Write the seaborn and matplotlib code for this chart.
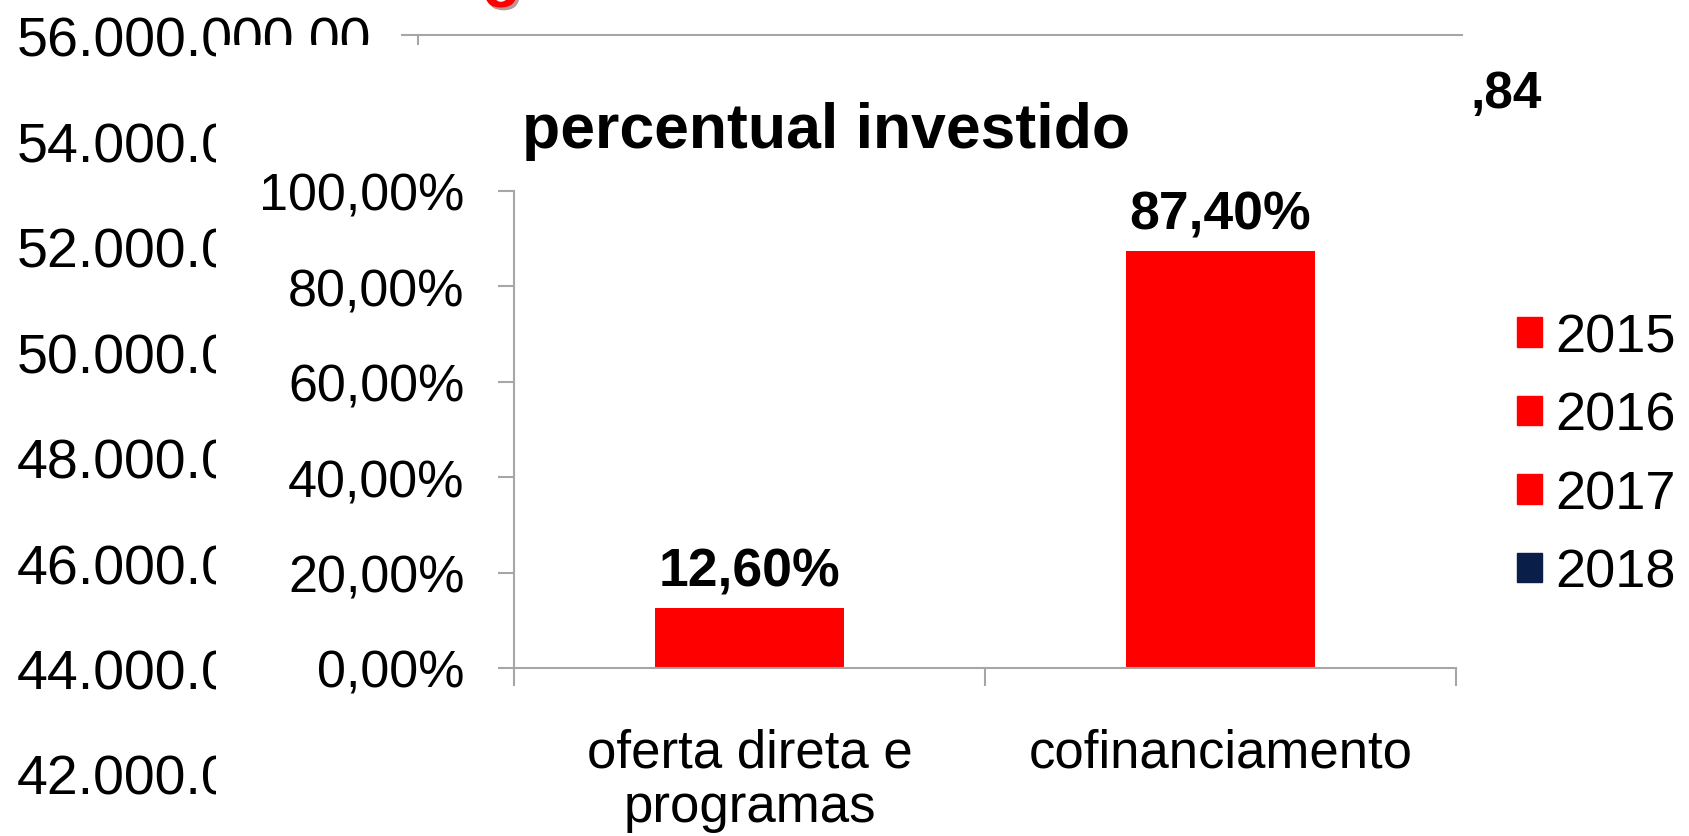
import matplotlib
matplotlib.use('Agg')
import matplotlib.pyplot as plt
import matplotlib.patheffects as pe
from matplotlib.patches import Rectangle, Patch
import seaborn as sns

# Data.
categories = ['oferta direta e\nprogramas', 'cofinanciamento']
percent = [0.126, 0.874]
percent_labels = ['12,60%', '87,40%']
pct_ticks = [0.0, 0.2, 0.4, 0.6, 0.8, 1.0]

# Background chart (mostly hidden behind the overlay).
bg_ticks = [40000000, 42000000, 44000000, 46000000, 48000000,
            50000000, 52000000, 54000000, 56000000]
years = ['2015', '2016', '2017', '2018']
year_colors = ['#ff0000', '#ff0000', '#ff0000', '#0a1e4a']
bg_value_fragment = ',84'

sns.set_theme(style='white')
plt.rcParams['font.family'] = ['Liberation Sans', 'DejaVu Sans']
plt.rcParams['text.color'] = 'black'
plt.rcParams['xtick.color'] = 'black'
plt.rcParams['ytick.color'] = 'black'

W, H = 1689, 837
def fx(px):
    return px / W
def fy(py):
    return 1 - py / H

GRAY = '#a6a6a6'
fig = plt.figure(figsize=(W / 100, H / 100), dpi=100)

# Background axes.
ax_bg = fig.add_axes([fx(418), fy(880), fx(1462) - fx(418), fy(36) - fy(880)])
ax_bg.set_ylim(40000000, 56000000)
ax_bg.set_yticks(bg_ticks)
ax_bg.set_yticklabels([f'{v:,.2f}'.replace(',', 'X').replace('.', ',').replace('X', '.')
                       for v in bg_ticks])
ax_bg.set_xticks([])
for s in ['right', 'bottom']:
    ax_bg.spines[s].set_visible(False)
for s in ['left', 'top']:
    ax_bg.spines[s].set_color(GRAY)
    ax_bg.spines[s].set_linewidth(1.5)
ax_bg.tick_params(axis='y', direction='out', length=12, width=1.5, color=GRAY,
                  labelcolor='black', pad=22, labelsize=40, left=True)
ax_bg.legend(handles=[Patch(facecolor=c, edgecolor=c) for c in year_colors],
             labels=years, loc='center left',
             bbox_to_anchor=(fx(1517), fy(456)), bbox_transform=fig.transFigure,
             frameon=False, fontsize=39, handlelength=0.46, handleheight=0.46,
             handletextpad=0.25, labelspacing=0.525, borderaxespad=0, borderpad=0)
fig.text(fx(1470), fy(108), bg_value_fragment, fontsize=37, fontweight='bold',
         va='baseline', ha='left')

# Red title fragment peeking in at the top edge.
fig.text(fx(482), fy(-5), 'g', fontsize=46, fontweight='bold', color='#ff0000',
         va='baseline', ha='left',
         path_effects=[pe.SimplePatchShadow(offset=(2, -2), alpha=0.4), pe.Normal()])

# White box of the pasted overlay chart.
fig.add_artist(Rectangle((fx(216), 0), fx(1468) - fx(216), fy(46),
                         transform=fig.transFigure, facecolor='white',
                         edgecolor='none', zorder=1))

# Overlay chart.
ax = fig.add_axes([fx(514), fy(669), fx(1456) - fx(514), fy(192) - fy(669)])
ax.set_zorder(2)
sns.barplot(x=categories, y=percent, color='#ff0000', saturation=1, width=0.4,
            linewidth=0, ax=ax)
ax.set_xlim(-0.5, 1.5)
ax.set_ylim(0, 1)
ax.set_yticks(pct_ticks)
ax.set_yticklabels([f'{v * 100:.2f}%'.replace('.', ',') for v in pct_ticks])
ax.set_xlabel('')
ax.set_ylabel('')
ax.set_xticks([-0.5, 0.5, 1.5], minor=True)
for s in ['top', 'right']:
    ax.spines[s].set_visible(False)
for s in ['left', 'bottom']:
    ax.spines[s].set_color(GRAY)
    ax.spines[s].set_linewidth(1.5)
ax.tick_params(axis='y', direction='out', length=11.5, width=1.5, color=GRAY,
               labelcolor='black', pad=24, labelsize=37.5, left=True)
ax.tick_params(axis='x', which='major', length=0, pad=43, labelsize=38,
               labelcolor='black')
ax.tick_params(axis='x', which='minor', direction='out', length=13, width=1.5,
               color=GRAY, bottom=True)
for t in ax.get_xticklabels():
    t.set_linespacing(1.12)
ax.bar_label(ax.containers[0], labels=percent_labels, padding=8,
             fontsize=38.5, fontweight='bold', color='black')

fig.text(fx(522), fy(148), 'percentual investido', fontsize=45,
         fontweight='bold', va='baseline', ha='left', zorder=3)

fig.savefig('out.png', dpi=100)
